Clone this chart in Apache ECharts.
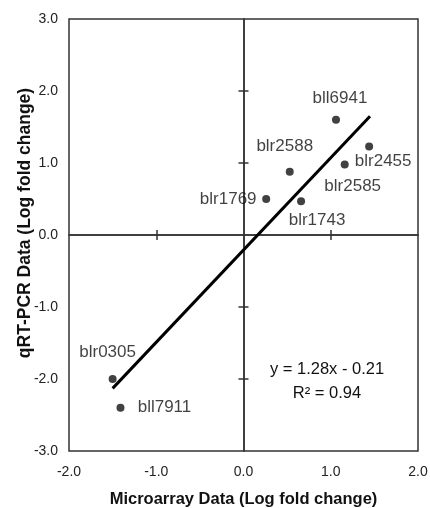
<!DOCTYPE html>
<html>
<head>
<meta charset="utf-8">
<script src="https://cdn.jsdelivr.net/npm/echarts@6/dist/echarts.min.js"></script>
<style>
  html, body { margin: 0; padding: 0; background: #fff; }
  #chart { width: 430px; height: 508px; }
</style>
</head>
<body>
<div id="chart"></div>
<script>
// ---- data ----
const genes = ['bll6941', 'blr2455', 'blr2585', 'blr2588', 'blr1769', 'blr1743', 'blr0305', 'bll7911'];
const microarray = [1.06, 1.44, 1.16, 0.53, 0.26, 0.66, -1.50, -1.41];
const qrtpcr = [1.60, 1.23, 0.98, 0.88, 0.50, 0.47, -2.00, -2.40];
const trendX = [-1.50, 1.45];
const trendY = [-2.13, 1.65];
const xTicks = [-2, -1, 0, 1, 2];
const yTicks = [-3, -2, -1, 0, 1, 2, 3];
const equationLines = ['y = 1.28x - 0.21', 'R² = 0.94'];
const xName = 'Microarray Data (Log fold change)';
const yName = 'qRT-PCR Data (Log fold change)';

// ---- styling ----
const FONT = '"Liberation Sans", Arial, sans-serif';
const labelOffsets = {
  bll6941: [4, -21], blr2455: [14, 15], blr2585: [8, 22], blr2588: [-5, -25],
  blr1769: [-38, 0], blr1743: [16, 19], blr0305: [-5, -27], bll7911: [44, 0]
};
const axisColor = '#333';

const chart = echarts.init(document.getElementById('chart'), null, { renderer: 'canvas' });

function fmt(v) { return Number(v).toFixed(1); }

const baseX = { type: 'value', min: xTicks[0], max: xTicks[xTicks.length - 1], interval: 1, position: 'bottom', splitLine: { show: false } };
const baseY = { type: 'value', min: yTicks[0], max: yTicks[yTicks.length - 1], interval: 1, position: 'left', splitLine: { show: false } };

const zeroLine = { show: true, onZero: true, onZeroAxisIndex: 0, lineStyle: { color: axisColor, width: 1.5 } };

const option = {
  animation: false,
  backgroundColor: '#fff',
  grid: {
    left: 69, right: 12, top: 19, bottom: 57,
    show: true, borderColor: axisColor, borderWidth: 1.5, backgroundColor: 'transparent',
    containLabel: false, outerBoundsMode: 'none'
  },
  xAxis: [
    Object.assign({}, baseX, {
      axisLine: { show: false }, axisTick: { show: false },
      axisLabel: { formatter: fmt, margin: 14, fontSize: 14, color: '#222', fontFamily: FONT, customValues: xTicks },
      name: xName, nameLocation: 'middle', nameGap: 40, nameMoveOverlap: false,
      nameTextStyle: { fontSize: 16.5, fontWeight: 'bold', color: '#111', fontFamily: FONT }
    }),
    Object.assign({}, baseX, {
      axisLine: zeroLine,
      axisTick: { show: true, customValues: [-1, 1], length: 5, inside: false, lineStyle: { color: axisColor, width: 1.5 } },
      axisLabel: { show: false }
    }),
    Object.assign({}, baseX, {
      axisLine: zeroLine,
      axisTick: { show: true, customValues: [-1, 1], length: 5, inside: true, lineStyle: { color: axisColor, width: 1.5 } },
      axisLabel: { show: false }
    })
  ],
  yAxis: [
    Object.assign({}, baseY, {
      axisLine: { show: false }, axisTick: { show: false },
      axisLabel: { formatter: fmt, margin: 11, fontSize: 14, color: '#222', fontFamily: FONT, customValues: yTicks },
      name: yName, nameLocation: 'middle', nameGap: 35, nameRotate: 90, nameMoveOverlap: false,
      nameTextStyle: { fontSize: 17.5, fontWeight: 'bold', color: '#111', fontFamily: FONT, padding: [0, 0, 0, 24] }
    }),
    Object.assign({}, baseY, {
      axisLine: zeroLine,
      axisTick: { show: true, customValues: [-2, -1, 1, 2], length: 5, inside: false, lineStyle: { color: axisColor, width: 1.5 } },
      axisLabel: { show: false }
    }),
    Object.assign({}, baseY, {
      axisLine: zeroLine,
      axisTick: { show: true, customValues: [-2, -1, 1, 2], length: 5, inside: true, lineStyle: { color: axisColor, width: 1.5 } },
      axisLabel: { show: false }
    })
  ],
  series: [
    {
      type: 'line', xAxisIndex: 0, yAxisIndex: 0,
      data: trendX.map((x, i) => [x, trendY[i]]),
      symbol: 'none', lineStyle: { color: '#000', width: 3 }, silent: true, z: 3
    },
    {
      type: 'scatter', xAxisIndex: 0, yAxisIndex: 0,
      symbolSize: 8, itemStyle: { color: '#111' }, z: 4,
      data: genes.map((g, i) => ({
        name: g,
        value: [microarray[i], qrtpcr[i]],
        label: {
          show: true, position: 'inside', offset: labelOffsets[g], formatter: g,
          fontSize: 17, color: '#111', fontFamily: FONT
        }
      }))
    }
  ],
  graphic: [
    {
      type: 'text', x: 327, y: 357, z: 10,
      style: { text: equationLines.join('\n'), align: 'center', verticalAlign: 'top', fontSize: 16.5, lineHeight: 24, fill: '#111', fontFamily: FONT }
    }
  ]
};

chart.setOption(option);
</script>
</body>
</html>
